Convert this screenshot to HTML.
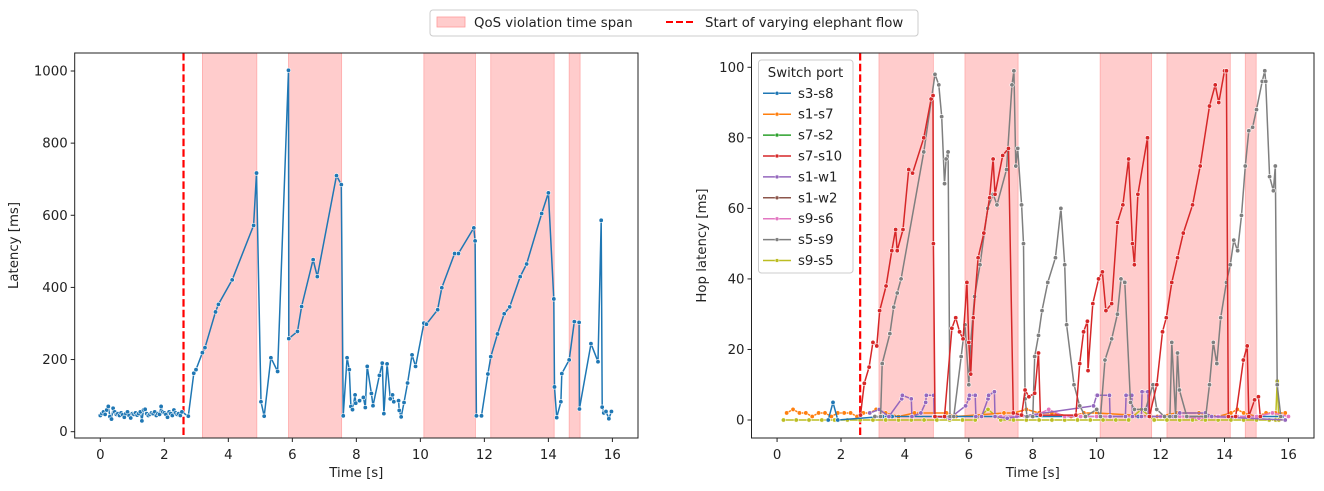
<!DOCTYPE html>
<html><head><meta charset="utf-8">
<style>
body{margin:0;background:#fff;font-family:"Liberation Sans","DejaVu Sans",sans-serif;}
svg{display:block}
text{font-family:"DejaVu Sans","Liberation Sans",sans-serif;font-size:13.3px;fill:#222}
</style></head>
<body>
<svg id="chart" width="1324" height="491" viewBox="0 0 1324 491" xmlns="http://www.w3.org/2000/svg">
<g>
<rect x="430" y="10" width="488" height="26" rx="3" fill="#fff" stroke="#ccc"/>
<rect x="437" y="17" width="28" height="10" fill="#ffcccc" stroke="#ff9999" stroke-width="0.8"/>
<text x="474" y="27">QoS violation time span</text>
<line x1="666" y1="22" x2="694" y2="22" stroke="#ff0000" stroke-width="2" stroke-dasharray="7,3"/>
<text x="705" y="27">Start of varying elephant flow</text>
</g>
<g id="left"></g>
<g id="right"></g>
</svg>
<script>
const spans=[[3.19,4.89],[5.88,7.54],[10.11,11.72],[12.2,14.18],[14.65,14.99]];
const startFlow=2.6;
const xTicks=[0,2,4,6,8,10,12,14,16];
const leftYTicks=[0,200,400,600,800,1000];
const rightYTicks=[0,20,40,60,80,100];
const latT=[0,0.05,0.1,0.15,0.2,0.25,0.3,0.35,0.4,0.45,0.5,0.55,0.6,0.65,0.7,0.75,0.8,0.85,0.9,0.95,1.0,1.05,1.1,1.15,1.2,1.25,1.3,1.35,1.4,1.45,1.5,1.55,1.6,1.65,1.7,1.75,1.8,1.85,1.9,1.95,2.0,2.05,2.1,2.15,2.2,2.25,2.3,2.35,2.4,2.45,2.5,2.55,
2.75,2.92,2.99,3.19,3.27,3.6,3.69,4.12,4.79,4.88,5.02,5.12,5.33,5.54,5.88,5.89,6.16,6.29,6.65,6.78,7.38,7.53,7.59,7.71,7.78,7.83,7.88,7.96,7.98,8.1,8.22,8.28,8.34,8.47,8.52,8.72,8.81,8.86,8.96,9.06,9.13,9.17,9.32,9.34,9.4,9.49,9.6,9.74,9.85,10.11,10.19,10.54,10.67,11.07,11.19,11.67,11.71,11.75,11.91,12.11,12.2,12.41,12.62,12.79,13.12,13.32,13.79,14.0,14.17,14.19,14.26,14.39,14.42,14.65,14.81,14.96,14.97,15.33,15.55,15.65,15.68,15.73,15.8,15.89,15.97];
const latV=[45,50,55,48,60,70,42,35,65,55,48,50,45,52,47,40,50,55,45,38,50,48,52,46,50,55,30,60,62,50,45,48,52,50,55,45,50,48,70,55,52,48,40,55,50,45,60,52,48,50,45,55,
43,162,172,219,233,332,353,421,572,717,83,43,205,167,1002,258,278,347,477,430,710,685,44,205,172,70,61,102,79,86,95,67,181,106,72,156,190,50,188,91,102,83,86,59,41,81,135,213,181,301,298,338,399,494,494,565,529,44,44,160,208,271,327,346,430,465,605,662,368,124,39,83,161,199,305,303,63,244,194,586,68,52,56,36,56];
const redT=[2.61,2.73,2.88,3.0,3.12,3.21,3.41,3.59,3.71,3.76,3.94,4.12,4.24,4.59,4.82,4.88,4.89,4.94,5.24,5.47,5.59,5.71,5.82,5.94,6.0,6.06,6.14,6.29,6.47,6.65,6.76,6.82,7.06,7.24,7.39,7.65,7.76,7.88,8.06,8.18,8.24,9.35,9.47,9.59,9.71,9.73,9.88,10.06,10.18,10.29,10.47,10.65,10.82,11.0,11.12,11.18,11.29,11.59,11.65,11.88,12.06,12.18,12.35,12.53,12.71,13.0,13.24,13.53,13.71,13.82,14.0,14.06,14.12,14.35,14.59,14.71,14.76,14.94,15.06,15.12];
const redV=[1.4,10.4,15,22,21,31,38,48,54,48,54,71,70,80,91,92,50,1,1,26,29,25,23,39,22,13,29,46,53,63,74,64,75,77,2,1.4,8.5,6.6,7.6,19,1.4,1.4,16,25,28,14,33,40,42,31,33,56,61,74,50,44,64,80,1,10,25,29,39,46,53,61,72,89,95,90,99,99,1,1,17,21,1,5.7,6.6,1];
const grayT=[3.06,3.24,3.29,3.53,3.65,3.76,3.88,4.59,4.94,5.06,5.15,5.24,5.29,5.35,5.41,5.53,5.76,5.88,6.0,6.06,6.18,6.35,6.59,6.76,6.88,7.18,7.35,7.41,7.47,7.53,7.65,7.71,7.76,7.82,8.0,8.06,8.18,8.29,8.47,8.71,8.88,9.0,9.06,9.29,9.47,9.65,10.0,10.12,10.26,10.47,10.65,10.76,10.88,11.06,11.18,11.53,11.76,11.88,12.12,12.29,12.35,12.47,12.53,12.59,12.82,13.41,13.53,13.65,13.76,13.88,14.06,14.18,14.29,14.41,14.53,14.65,14.76,14.88,15.0,15.18,15.26,15.29,15.41,15.53,15.59,15.65,15.76];
const grayV=[1,1,16,24.5,32,36,40,76,98,95,86,67,74,76,1,1,18,27,10,22,35,44,60,64,61,71,95,99,72,77,61,50,6,1,1,18,24,31,39,46,60,44,27,10,4,1,3,1,17,23,30,40,39,5,3,3,10,3,1,1,22,1,19,8.5,1,1,10,22,16,29,39,44,51,48,58,72,82,83,88,96,99,96,69,65,72,10,1];
const purpleT=[2.9,3.2,3.5,3.9,3.92,4.2,4.22,4.5,4.65,4.67,4.9,4.92,5.4,5.9,6.0,6.02,6.2,6.22,6.4,6.6,6.62,6.8,6.82,7.2,9.9,10.0,10.02,10.4,10.42,10.9,10.92,11.1,11.12,11.4,11.42,11.6,11.62,12.4,12.6,13.4,13.6,15.9];
const purpleV=[2,3,1,6,7,6,1,2,5,7,7,1,0.5,4,6,7,7,1,1,6,7,8,1,0.5,4,7,7,7,1,1,7,7,1,1,8,8,1,1,2,2,1,0];
const orangeT=[0.3,0.5,0.7,0.9,1.1,1.3,1.5,1.7,1.9,2.1,2.3,2.5,2.7,2.9,3.1,3.4,3.8,4.3,5.3,5.6,7.1,7.4,7.8,8.2,8.6,9.2,9.6,10.0,11.9,12.5,13.2,13.8,14.2,14.4,14.6,15.0,15.3,15.6,15.9];
const orangeV=[2,3,2,2,1,2,2,1,2,2,2,1,2,2,3,2,1,2,2,1,2,2,3,2,2,1,2,2,1,2,2,1,2,3,2,1,2,2,2];
const oliveT=[0.2,0.6,1.0,1.4,1.8,2.2,2.6,3.0,3.4,3.8,4.2,4.6,5.0,5.4,5.8,6.2,6.6,7.0,7.4,7.8,8.2,8.6,9.0,9.4,9.8,10.2,10.6,11.0,11.4,11.8,12.2,12.6,13.0,13.4,13.8,14.2,14.6,15.0,15.4,15.6,15.65,15.7,15.9];
const oliveV=[0,0,0,0,0,0,0,0,0,0,0,0,0,0,0,0,3,0,0,0,0,0,0,0,0,0,0,0,3,0,0,0,0,0,0,0,0,0,0,0,11,0,0];
const pinkT=[7.0,7.5,8.0,8.5,9.0,9.5,10.0,12.0,12.6,13.2,13.8,14.4,15.0,15.5,16.0];
const pinkV=[1,1,1,3,1,1,1,1,1,0.5,1,1,1,2,1];
const blueT=[1.6,1.75,1.9,3.3,3.6,10.4,11.3,15.8];
const blueV=[0,5,0,1,1,1,1,1];

const NS='http://www.w3.org/2000/svg';
function mk(tag,attrs,parent){const e=document.createElementNS(NS,tag);for(const k in attrs)e.setAttribute(k,attrs[k]);parent.appendChild(e);return e;}

function axes(g,L,R,T,B,yMin,yMax,yTicks,ylab,ylabX){
  const sx=t=>L+(t+0.8)/(17.6)*(R-L);
  const sy=v=>B-(v-yMin)/(yMax-yMin)*(B-T);
  spans.forEach(s=>{
    const r=mk('rect',{x:sx(s[0]),y:T,width:sx(s[1])-sx(s[0]),height:B-T,fill:'#ffcccc',stroke:'#ffaaaa','stroke-width':0.8},g);
    
    
  });
  const dl=mk('line',{x1:sx(startFlow),x2:sx(startFlow),y1:T,y2:B,stroke:'#ff0000','stroke-width':2.2,'stroke-dasharray':'7.5,3.2'},g);
  
  
  xTicks.forEach(t=>{
    mk('line',{x1:sx(t),x2:sx(t),y1:B,y2:B+4,stroke:'#222'},g);
    const tx=mk('text',{x:sx(t),y:B+21,'text-anchor':'middle'},g);tx.textContent=t;
    
    
  });
  yTicks.forEach(v=>{
    mk('line',{x1:L-4,x2:L,y1:sy(v),y2:sy(v),stroke:'#222'},g);
    const tx=mk('text',{x:L-7,y:sy(v)+4.5,'text-anchor':'end'},g);tx.textContent=v;
    
    
  });
  const xl=mk('text',{x:(L+R)/2,y:477,'text-anchor':'middle'},g);xl.textContent='Time [s]';
  
  
  const yl=mk('text',{x:ylabX,y:(T+B)/2,'text-anchor':'middle',transform:`rotate(-90 ${ylabX} ${(T+B)/2})`},g);yl.textContent=ylab;
  
  
  return {sx,sy};
}
function series(g,xs,ys,color,sc,name,lw){
  const sg=mk('g',{},g);
  
  
  let d='';xs.forEach((t,i)=>{d+=(i?'L':'M')+sc.sx(t).toFixed(1)+','+sc.sy(ys[i]).toFixed(1);});
  mk('path',{d,fill:'none',stroke:color,'stroke-width':lw||1.5,'stroke-linejoin':'round'},sg);
  xs.forEach((t,i)=>{mk('circle',{cx:sc.sx(t),cy:sc.sy(ys[i]),r:2.2,fill:color,stroke:'#fff','stroke-width':0.6},sg);});
}
function frame(g,L,R,T,B){
  const f=mk('rect',{x:L,y:T,width:R-L,height:B-T,fill:'none',stroke:'#222','stroke-width':1},g);
  
  
}
const gl=document.getElementById('left');
const scL=axes(gl,74.7,638,53,438,-17.5,1049.9,leftYTicks,'Latency [ms]',18);
series(gl,latT,latV,'#1f77b4',scL,'latency-series');
frame(gl,74.7,638,53,438);

const gr=document.getElementById('right');
const scR=axes(gr,751.5,1314,53,438,-5.1,104.05,rightYTicks,'Hop latency [ms]',706);
series(gr,oliveT,oliveV,'#bcbd22',scR,'series-s9-s5');
series(gr,orangeT,orangeV,'#ff7f0e',scR,'series-s1-s7');
series(gr,blueT,blueV,'#1f77b4',scR,'series-s3-s8');
series(gr,pinkT,pinkV,'#e377c2',scR,'series-s9-s6');
series(gr,purpleT,purpleV,'#9467bd',scR,'series-s1-w1');
series(gr,grayT,grayV,'#7f7f7f',scR,'series-s5-s9');
series(gr,redT,redV,'#d62728',scR,'series-s7-s10');
frame(gr,751.5,1314,53,438);

const leg=mk('g',{},gr);


mk('rect',{x:758.5,y:60,width:94.5,height:213,rx:3,fill:'#fff','fill-opacity':0.85,stroke:'#ccc'},leg);
const lt=mk('text',{x:805.5,y:77,'text-anchor':'middle'},leg);lt.textContent='Switch port';
const legNames=['s3-s8','s1-s7','s7-s2','s7-s10','s1-w1','s1-w2','s9-s6','s5-s9','s9-s5'];
const legColors=['#1f77b4','#ff7f0e','#2ca02c','#d62728','#9467bd','#8c564b','#e377c2','#7f7f7f','#bcbd22'];
legNames.forEach((n,i)=>{
  const y=93.3+i*20.9;
  const e=mk('g',{},leg);
  
  
  mk('line',{x1:763,x2:791,y1:y,y2:y,stroke:legColors[i],'stroke-width':1.5},e);
  mk('circle',{cx:777,cy:y,r:2,fill:legColors[i],stroke:'#fff','stroke-width':0.5},e);
  const t=mk('text',{x:798,y:y+4.5},e);t.textContent=n;
});
</script>
</body></html>
